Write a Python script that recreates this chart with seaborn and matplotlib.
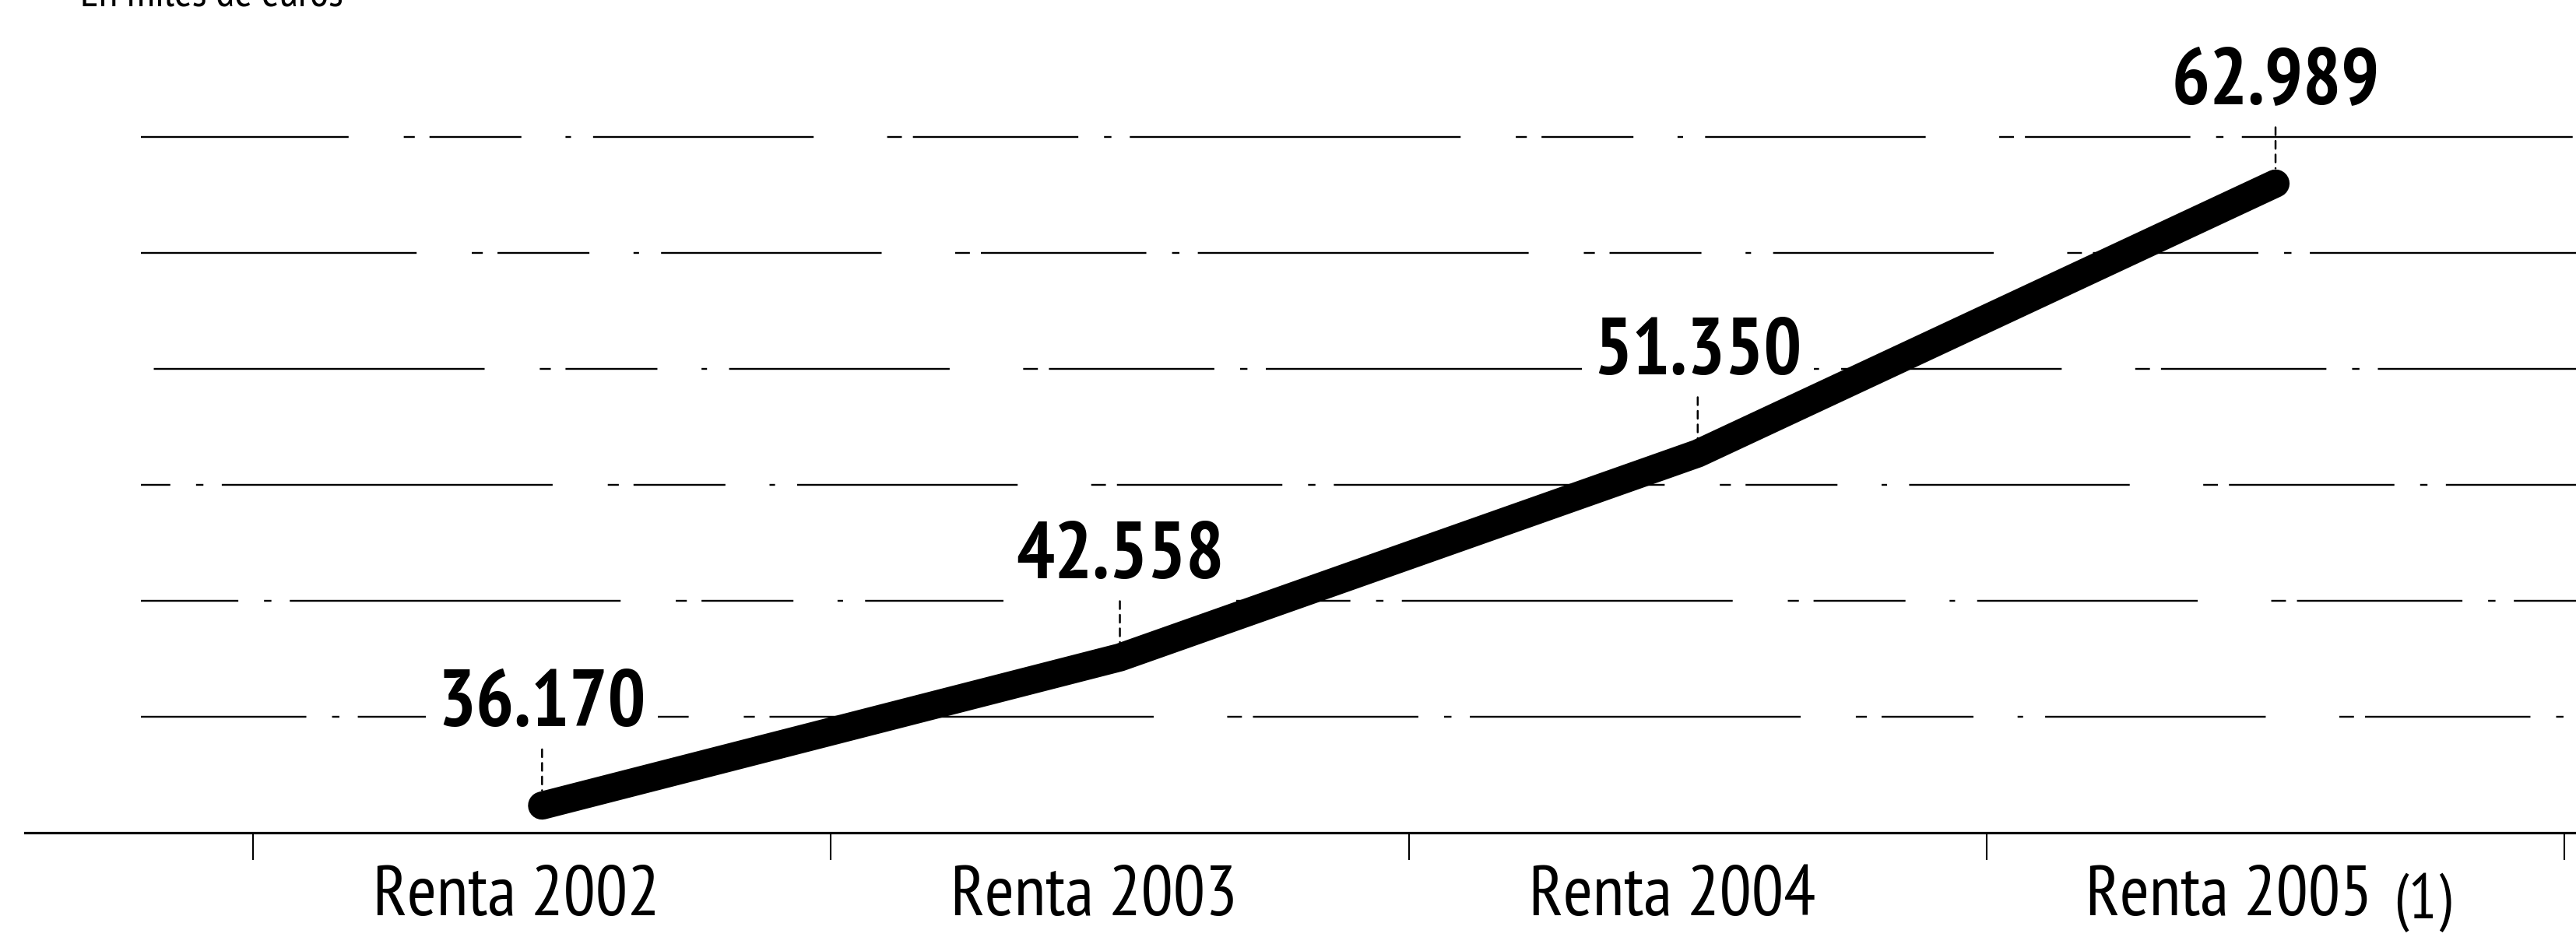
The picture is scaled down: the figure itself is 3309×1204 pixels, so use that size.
import numpy as np
import pandas as pd
import matplotlib
matplotlib.use('Agg')
import matplotlib.pyplot as plt
from matplotlib.transforms import ScaledTranslation
import seaborn as sns

# datos (miles de euros)
categorias = ['Renta 2002', 'Renta 2003', 'Renta 2004', 'Renta 2005']
nota_ultima = '(1)'
valores = [36.170, 42.558, 51.350, 62.989]
etiquetas = ['36.170', '42.558', '51.350', '62.989']
rejilla = [40, 45, 50, 55, 60, 65]
subtitulo = 'En miles de euros'

sns.set_theme(style='white')
fuente = ['PT Sans Narrow', 'Roboto Condensed', 'Archivo Narrow', 'DejaVu Sans']
plt.rcParams['font.family'] = fuente
plt.rcParams['text.color'] = 'black'
plt.rcParams['xtick.color'] = 'black'

df = pd.DataFrame({'pos': np.arange(len(categorias)), 'valor': valores})

fig = plt.figure(figsize=(33.09, 12.04), dpi=100)
ax = fig.add_axes([32 / 3309, 134 / 1204, 1 - 32 / 3309, 1 - 134 / 1204])
ax.set_xlim(-0.895, 3.52)
ax.set_ylim(35, 70.9)

# rejilla discontinua (irregular, como el original escaneado)
patron = (0, (90, 14, 4, 10, 180, 30, 6, 8, 50, 24, 3, 12, 120, 40, 8, 6))
for k, g in enumerate(rejilla):
    ax.axhline(g, xmin=(0.895 - 0.694) / 4.415, xmax=1, color='black',
               lw=1.7, linestyle=(k * 37, patron[1]), zorder=1)

sns.lineplot(data=df, x='pos', y='valor', ax=ax, color='black', linewidth=26,
             solid_capstyle='round', solid_joinstyle='round', sort=False,
             zorder=4, legend=False)

for i, (v, txt) in enumerate(zip(valores, etiquetas)):
    ax.annotate(txt, xy=(i, v), xytext=(0, 73.5), textcoords='offset points',
                ha='center', va='baseline', fontsize=74, fontweight='bold',
                family=fuente, color='black', zorder=3,
                bbox=dict(boxstyle='square,pad=0.15', fc='white', ec='none'))
    ax.annotate('', xy=(i, v), xytext=(0, 52), textcoords='offset points',
                arrowprops=dict(arrowstyle='-', color='black', lw=1.8,
                                linestyle=(0, (4, 3)), shrinkA=0, shrinkB=14),
                zorder=3)

# ejes
for s in ['top', 'left', 'right']:
    ax.spines[s].set_visible(False)
ax.spines['bottom'].set_color('black')
ax.spines['bottom'].set_linewidth(2.3)
ax.set_yticks([])
ax.set_xticks(np.arange(len(categorias)))
ax.set_xticklabels(categorias, fontsize=66, family=fuente, color='black')
ax.set_xticks(np.arange(len(categorias) + 1) - 0.5, minor=True)
ax.tick_params(axis='x', which='major', length=0, pad=30)
ax.tick_params(axis='x', which='minor', length=25, width=1.5, color='black',
               direction='out', bottom=True)
ax.set_xlabel('')
ax.set_ylabel('')

# las etiquetas van algo desplazadas a la izquierda en el original
etq = ax.get_xticklabels()
for j, lbl in enumerate(etq):
    dx = -0.6 if j == len(etq) - 1 else -0.33
    lbl.set_transform(lbl.get_transform() + ScaledTranslation(dx, 0, fig.dpi_scale_trans))

# nota "(1)" junto a la ultima etiqueta
ax.annotate(nota_ultima, xy=(1, 0), xycoords=etq[-1], xytext=(20, -3),
            textcoords='offset points', ha='left', va='bottom', fontsize=58,
            family=fuente, color='black')

fig.text(103 / 3309, 1 - 7 / 1204, subtitulo, ha='left', va='baseline',
         fontsize=40, family=fuente, color='black')

fig.savefig('out.png', dpi=100, facecolor='white')
